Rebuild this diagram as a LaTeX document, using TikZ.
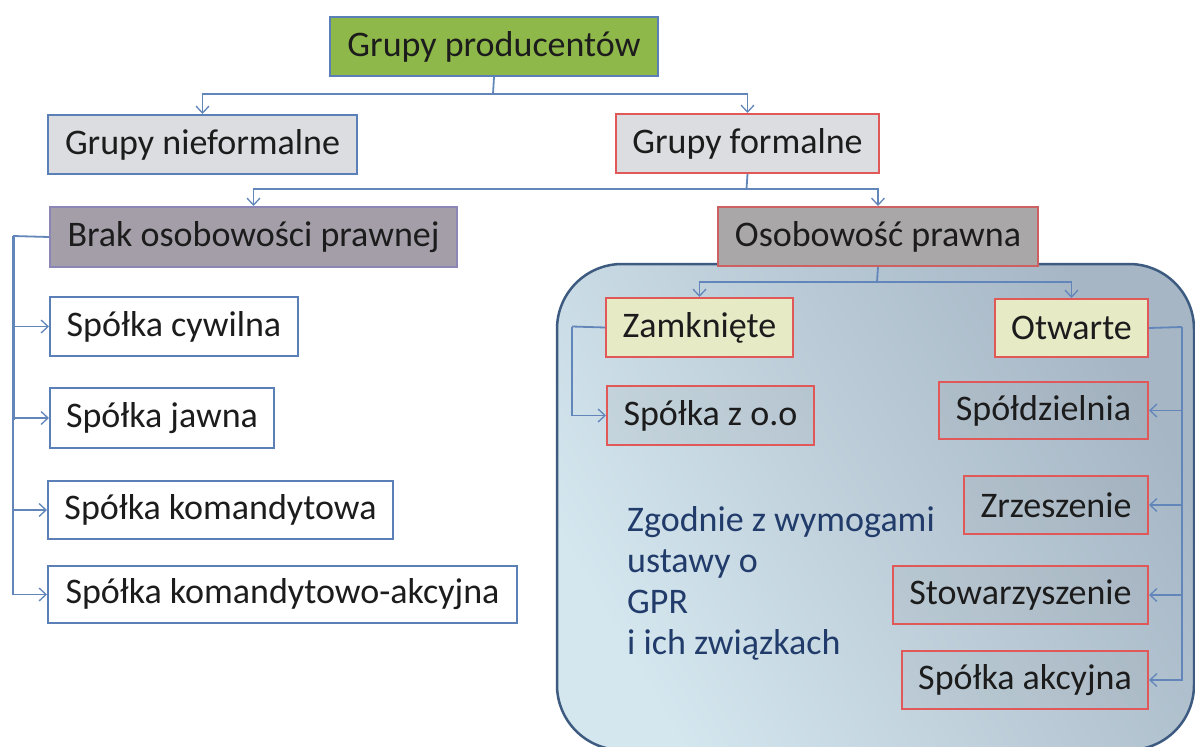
\documentclass[tikz,border=0pt]{standalone}
\usepackage{fontspec}
\setmainfont{Carlito}
\usetikzlibrary{arrows.meta}
\definecolor{prodgreen}{HTML}{8FB84A}
\definecolor{bluebd}{HTML}{5B80B8}
\definecolor{redbd}{HTML}{E05858}
\definecolor{connblue}{HTML}{6286BA}
\definecolor{lgray}{HTML}{DCDDE0}
\definecolor{brakfill}{HTML}{A49EA8}
\definecolor{osobfill}{HTML}{A9A7A7}
\definecolor{pale}{HTML}{E6EBC6}
\definecolor{bglight}{HTML}{D4E6EE}
\definecolor{bgdark}{HTML}{A6B6C5}
\definecolor{framebd}{HTML}{3D5B80}
\definecolor{zgblue}{HTML}{213B6A}
\definecolor{txt}{HTML}{1C1C1C}
\tikzset{
  nbox/.style={draw, line width=2pt, inner sep=0pt, anchor=north west,
    text=txt, font=\fontsize{36}{41}\selectfont},
  tbox/.style={nbox, draw=redbd, preaction={fill=gray, fill opacity=0.1}},
  conn/.style={draw=connblue, line width=1.8pt,
    -{Straight Barb[length=7pt,width=13pt,line width=1.3pt]}},
  plain/.style={draw=connblue, line width=1.8pt}
}
\begin{document}
\begin{tikzpicture}[x=1pt,y=-1pt]
\useasboundingbox (0,0) rectangle (1195,747);
\fill[white] (0,0) rectangle (1195,747);
% big rounded panel
\shade[left color=bglight, right color=bgdark, shading angle=120]
  [rounded corners=65pt] (557,264) rectangle (1194,750);
\draw[line width=2.5pt, draw=framebd, rounded corners=65pt] (557,264) rectangle (1194,750);

% boxes
\node[nbox, fill=prodgreen, draw=bluebd, minimum width=328pt, minimum height=59pt] (prod) at (329,16) {Grupy producentów};
\node[nbox, fill=lgray, draw=bluebd, minimum width=309pt, minimum height=59pt] (nief) at (47,114) {Grupy nieformalne};
\node[nbox, fill=lgray, draw=redbd, minimum width=263pt, minimum height=59pt] (form) at (615,113) {Grupy formalne};
\node[nbox, fill=brakfill, draw=brakfill!85!blue, minimum width=407pt, minimum height=60pt] (brak) at (49,206) {Brak osobowości prawnej};
\node[nbox, fill=osobfill, draw=redbd!80!gray, minimum width=320pt, minimum height=59pt] (osob) at (717,206) {Osobowość prawna};

\node[nbox, fill=white, draw=bluebd, minimum width=248pt, minimum height=59pt] (cyw) at (49,296) {Spółka cywilna};
\node[nbox, fill=white, draw=bluebd, minimum width=224pt, minimum height=60pt] (jaw) at (49,387) {Spółka jawna};
\node[nbox, fill=white, draw=bluebd, minimum width=345pt, minimum height=58pt] (kom) at (47,480) {Spółka komandytowa};
\node[nbox, fill=white, draw=bluebd, minimum width=469pt, minimum height=57pt] (koma) at (47,565) {Spółka komandytowo-akcyjna};

\node[nbox, fill=pale, draw=redbd, minimum width=187pt, minimum height=59pt] (zam) at (605,297) {Zamknięte};
\node[nbox, fill=pale, draw=redbd, minimum width=153pt, minimum height=58pt] (otw) at (994,298) {Otwarte};
\node[tbox, minimum width=207pt, minimum height=59pt] (spz) at (606,385) {Spółka z o.o};
\node[tbox, minimum width=209pt, minimum height=57pt] (spd) at (938,381) {Spółdzielnia};
\node[tbox, minimum width=184pt, minimum height=58pt] (zrz) at (963,475) {Zrzeszenie};
\node[tbox, minimum width=255pt, minimum height=58pt] (sto) at (892,565) {Stowarzyszenie};
\node[tbox, minimum width=246pt, minimum height=58pt] (sak) at (901,650) {Spółka akcyjna};

\node[anchor=north west, inner sep=0pt, align=left, text=zgblue,
  font=\fontsize{36}{41}\selectfont] (zg) at (627,506)
  {Zgodnie z wymogami\\ustawy o\\GPR\\i ich związkach};

% connectors
\coordinate (j1) at (493,94);
\draw[plain] (prod.south) -- (j1);
\draw[conn] (j1) -| (nief.north);
\draw[conn] (j1) -| (form.north);

\coordinate (j2) at (746.5,189);
\draw[plain] (form.south) -- (j2);
\draw[conn] (j2) -| (brak.north);
\draw[conn] (j2) -| (osob.north);

\coordinate (j3) at (877,282);
\draw[plain] (osob.south) -- (j3);
\draw[conn] (j3) -| (zam.north);
\draw[conn] (j3) -| (otw.north);

\coordinate (bl) at (13,236);
\draw[plain] (brak.west) -- (bl);
\draw[connblue, line width=3pt] (bl) -- (13,420);
\foreach \n in {cyw,jaw,kom,koma}
  \draw[conn] (bl) |- (\n.west);

\coordinate (zl) at (572,326.5);
\draw[plain] (zam.west) -- (zl);
\draw[conn] (zl) |- (spz.west);

\coordinate (ol) at (1182,327);
\draw[plain] (otw.east) -- (ol);
\foreach \n in {spd,zrz,sto,sak}
  \draw[conn] (ol) |- (\n.east);
\end{tikzpicture}
\end{document}
